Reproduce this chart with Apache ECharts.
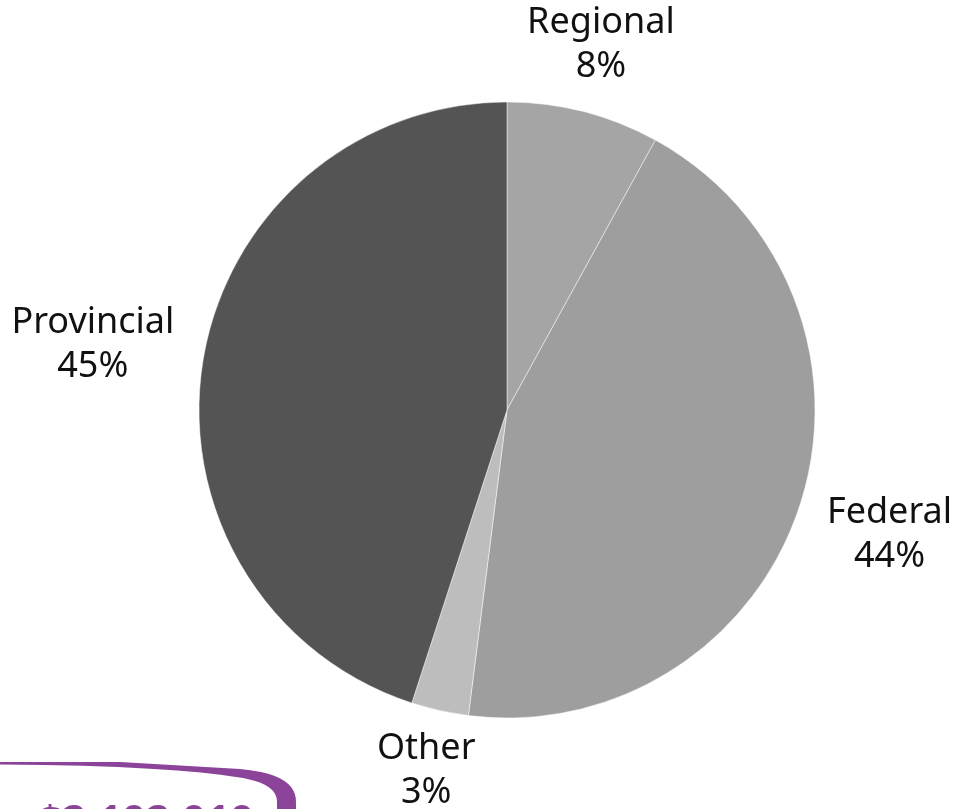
<!DOCTYPE html>
<html>
<head>
<meta charset="utf-8">
<script src="https://cdn.jsdelivr.net/npm/echarts@6/dist/echarts.min.js"></script>
<style>
  html, body { margin: 0; padding: 0; background: #fff; }
  #chart { width: 953px; height: 809px; }
</style>
</head>
<body>
<div id="chart"></div>
<script>
// funding sources, clockwise from 12 o'clock
const categories = ['Regional', 'Federal', 'Other', 'Provincial']
const shares = [8, 44, 3, 45]
const sliceColors = ['#a5a5a5', '#9e9e9e', '#bdbdbd', '#545454']
const totalLabel = '$2,102,010'

const labelFont = 'Noto Sans'
const labelGap = 27
const labelVPad = 19

const chart = echarts.init(document.getElementById('chart'), null, { renderer: 'canvas' })

// put each label just outside the pie along the slice's mid angle, centred
function placeLabel (params) {
  const layout = chart.getModel().getSeriesByIndex(0).getData().getItemLayout(params.dataIndex)
  const mid = (layout.startAngle + layout.endAngle) / 2
  const dx = Math.cos(mid)
  const dy = Math.sin(mid)
  const w = params.labelRect.width
  const h = params.labelRect.height
  const d = layout.r + labelGap + Math.abs(dx) * w / 2 + Math.abs(dy) * (h / 2 - labelVPad)
  return {
    x: layout.cx + dx * d,
    y: layout.cy + dy * d,
    align: 'center',
    verticalAlign: 'middle'
  }
}

// the purple frame peeking in at the bottom left: a thin top edge that
// thickens into the rounded top-right corner
function cubic (p0, p1, p2, p3, n) {
  const pts = []
  for (let i = 0; i <= n; i++) {
    const t = i / n
    const u = 1 - t
    pts.push([
      u * u * u * p0[0] + 3 * u * u * t * p1[0] + 3 * u * t * t * p2[0] + t * t * t * p3[0],
      u * u * u * p0[1] + 3 * u * u * t * p1[1] + 3 * u * t * t * p2[1] + t * t * t * p3[1]
    ])
  }
  return pts
}
const frameOuter = [[0, 762]].concat(
  cubic([120, 762], [200, 765], [240, 769], [240, 769], 1),
  cubic([240, 769], [284, 773], [296, 786], [296, 802], 12),
  [[296, 809]]
)
const frameInner = [[277, 809]].concat(
  cubic([277, 802], [277, 790], [266, 781], [236, 777], 12),
  cubic([236, 777], [200, 771], [120, 765], [0, 764.5], 8)
)

const option = {
  animation: false,
  series: [
    {
      type: 'pie',
      center: [507, 410],
      radius: [0, 308],
      startAngle: 90,
      clockwise: true,
      avoidLabelOverlap: false,
      itemStyle: {
        borderColor: 'rgba(255, 255, 255, 0.6)',
        borderWidth: 0.8
      },
      label: {
        show: true,
        position: 'outside',
        formatter: '{b}\n{c}%',
        fontFamily: labelFont,
        fontSize: 36,
        lineHeight: 44,
        color: '#111',
        align: 'center'
      },
      labelLine: { show: false },
      labelLayout: placeLabel,
      emphasis: { disabled: true },
      data: categories.map((name, i) => ({
        name: name,
        value: shares[i],
        itemStyle: { color: sliceColors[i] }
      }))
    }
  ],
  graphic: [
    {
      type: 'polygon',
      shape: { points: frameOuter.concat(frameInner) },
      style: { fill: '#8b4499' }
    },
    {
      type: 'text',
      x: 38,
      y: 802,
      style: {
        text: totalLabel,
        fontFamily: labelFont,
        fontWeight: 'bold',
        fontSize: 42,
        fill: '#8b4499'
      }
    }
  ]
}

chart.setOption(option)
</script>
</body>
</html>
